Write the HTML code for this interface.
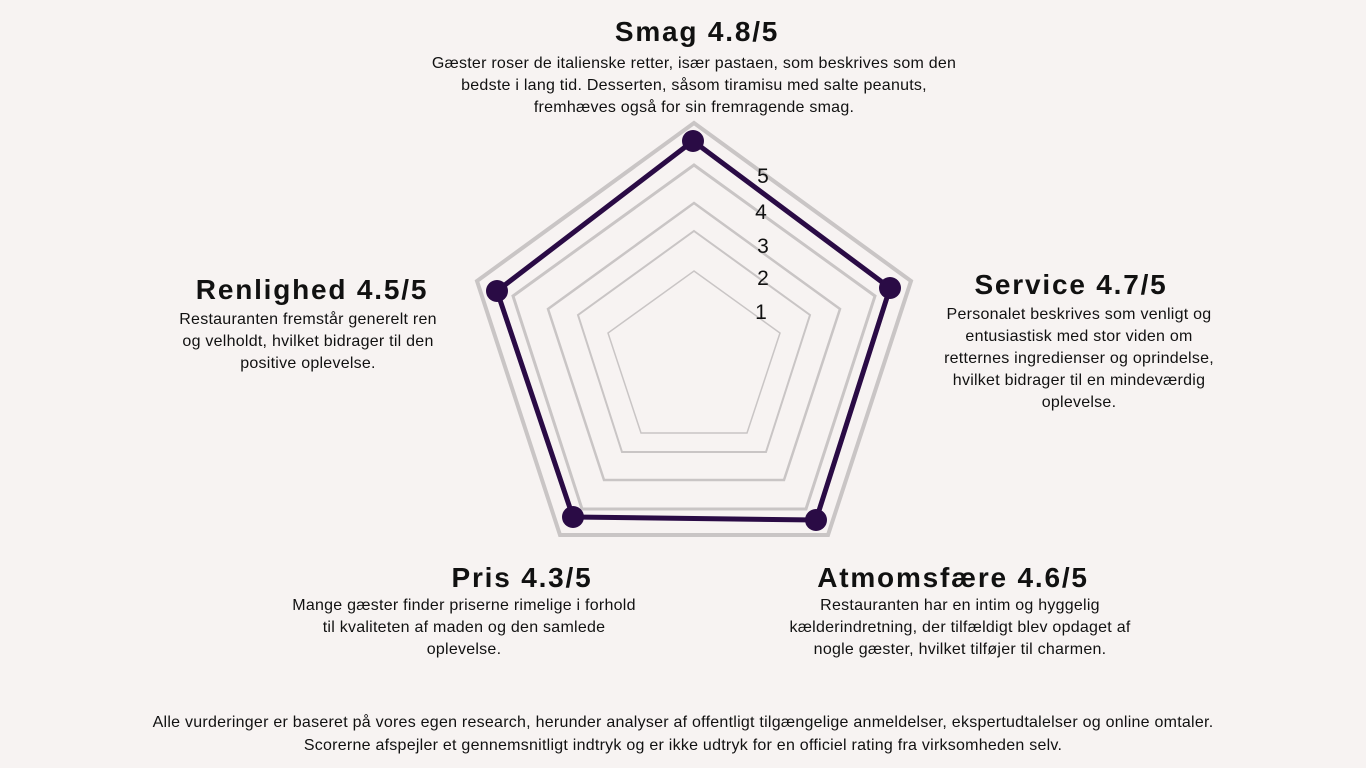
<!DOCTYPE html>
<html><head><meta charset="utf-8"><style>
html,body{margin:0;padding:0;background:#f7f3f2;}
body{width:1366px;height:768px;position:relative;overflow:hidden;font-family:"Liberation Sans",sans-serif;color:#111;}
.t{position:absolute;transform:translateX(-50%);white-space:nowrap;text-align:center;}
.h{font-weight:bold;font-size:28px;line-height:32px;letter-spacing:1.8px;}
.b{font-size:16px;line-height:22px;letter-spacing:0.25px;}
svg{position:absolute;left:0;top:0;}
</style></head><body>
<svg width="1366" height="768">
<g fill="none" stroke="#c9c5c5" stroke-linejoin="miter">
<polygon stroke-width="4" points="694,123 911,281 828,535 560,535 477,281"/>
<polygon stroke-width="3" points="694,165 875,296 806,509 582,509 513,296"/>
<polygon stroke-width="2.5" points="694,203 840,309 784,480 604,480 548,309"/>
<polygon stroke-width="2" points="694,231 810,315 766,452 622,452 578,315"/>
<polygon stroke-width="1.5" points="694,271 780,333 747,433 641,433 608,333"/>
</g>
<polygon fill="none" stroke="#2a0b45" stroke-width="5" stroke-linejoin="round" points="693,141 890,288 816,520 573,517 497,291"/>
<g fill="#2a0b45">
<circle cx="693" cy="141" r="11"/><circle cx="890" cy="288" r="11"/><circle cx="816" cy="520" r="11"/><circle cx="573" cy="517" r="11"/><circle cx="497" cy="291" r="11"/>
</g>
<g font-family="Liberation Sans, sans-serif" font-size="21" fill="#111" text-anchor="middle">
<text x="763" y="183">5</text><text x="761" y="219">4</text><text x="763" y="253">3</text><text x="763" y="285">2</text><text x="761" y="319">1</text>
</g>
</svg>
<div class="t h" style="left:697px;top:16px">Smag 4.8/5</div>
<div class="t b" style="left:694px;top:53px">Gæster roser de italienske retter, især pastaen, som beskrives som den<br>bedste i lang tid. Desserten, såsom tiramisu med salte peanuts,<br>fremhæves også for sin fremragende smag.</div>
<div class="t h" style="left:1071px;top:269px">Service 4.7/5</div>
<div class="t b" style="left:1079px;top:304px">Personalet beskrives som venligt og<br>entusiastisk med stor viden om<br>retternes ingredienser og oprindelse,<br>hvilket bidrager til en mindeværdig<br>oplevelse.</div>
<div class="t h" style="left:312px;top:274px">Renlighed 4.5/5</div>
<div class="t b" style="left:308px;top:309px">Restauranten fremstår generelt ren<br>og velholdt, hvilket bidrager til den<br>positive oplevelse.</div>
<div class="t h" style="left:522px;top:562px">Pris 4.3/5</div>
<div class="t b" style="left:464px;top:595px">Mange gæster finder priserne rimelige i forhold<br>til kvaliteten af maden og den samlede<br>oplevelse.</div>
<div class="t h" style="left:953px;top:562px">Atmomsfære 4.6/5</div>
<div class="t b" style="left:960px;top:595px">Restauranten har en intim og hyggelig<br>kælderindretning, der tilfældigt blev opdaget af<br>nogle gæster, hvilket tilføjer til charmen.</div>
<div class="t b" style="left:683px;top:711px;line-height:23px">Alle vurderinger er baseret på vores egen research, herunder analyser af offentligt tilgængelige anmeldelser, ekspertudtalelser og online omtaler.<br>Scorerne afspejler et gennemsnitligt indtryk og er ikke udtryk for en officiel rating fra virksomheden selv.</div>
</body></html>
